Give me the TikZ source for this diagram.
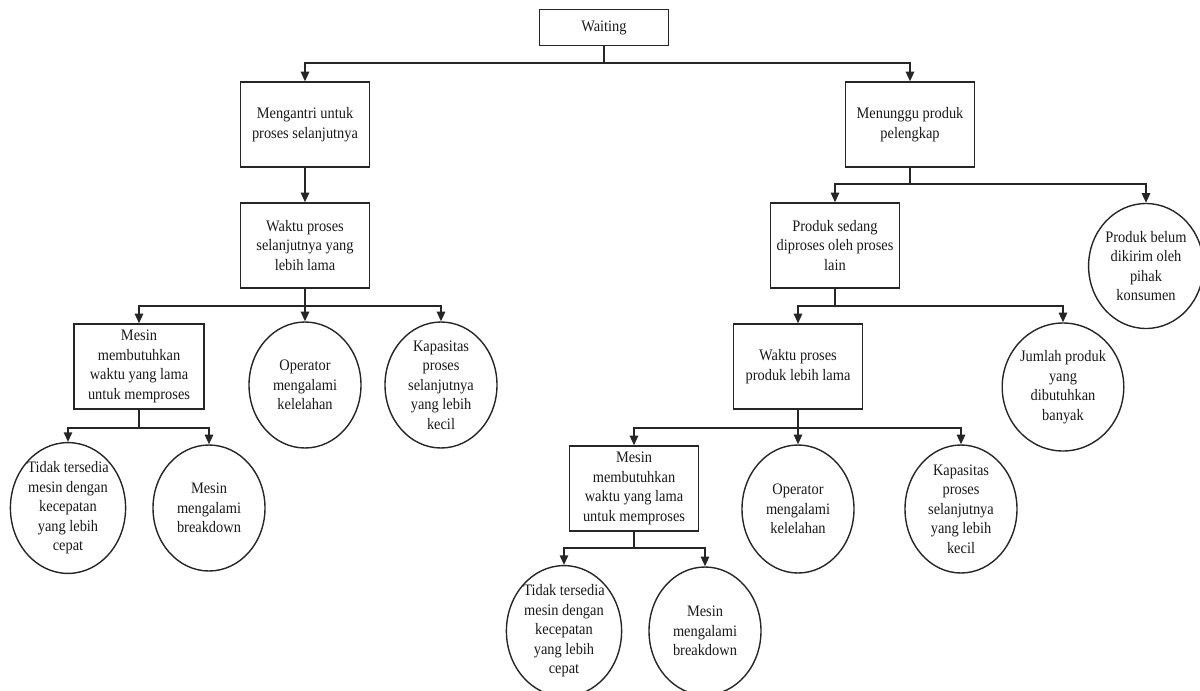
\documentclass[tikz,border=0pt]{standalone}
\usepackage{fontspec}
\setmainfont{Liberation Serif}[FakeStretch=0.9]
\usetikzlibrary{shapes.geometric,arrows.meta}
\tikzset{
  base/.style={draw=black!85, line width=0.7pt, align=center, inner sep=0pt,
    font=\fontsize{8}{9.75}\selectfont, text=black!90},
  boxnode/.style={base, rectangle, minimum width=64.5pt, minimum height=42.5pt},
  ovalnode/.style={base, ellipse, minimum width=56pt, minimum height=63pt},
  conn/.style={draw=black!85, line width=0.75pt},
  arr/.style={conn, -{Triangle[width=4.2pt,length=4.8pt]}}
}
\begin{document}
\begin{tikzpicture}[x=0.5pt,y=-0.5pt]
\useasboundingbox (0,0) rectangle (1200,691);
% top
\node[boxnode, minimum height=18pt] (W) at (604,27.5) {Waiting};
\node[boxnode] (A) at (305,124.5) {Mengantri untuk\\proses selanjutnya};
\node[boxnode] (B) at (910,124.5) {Menunggu produk\\pelengkap};
% left branch
\node[boxnode] (A1) at (305,245.5) {Waktu proses\\selanjutnya yang\\lebih lama};
\node[boxnode, minimum width=65pt] (A11) at (139,366.5) {Mesin\\membutuhkan\\waktu yang lama\\untuk memproses};
\node[ovalnode] (A12) at (305,385) {Operator\\mengalami\\kelelahan};
\node[ovalnode] (A13) at (441,385) {Kapasitas\\proses\\selanjutnya\\yang lebih\\kecil};
\node[ovalnode] (A111) at (68,508) {Tidak tersedia\\mesin dengan\\kecepatan\\yang lebih\\cepat};
\node[ovalnode] (A112) at (209,508) {Mesin\\mengalami\\breakdown};
% right branch
\node[boxnode] (B1) at (835,245.5) {Produk sedang\\diproses oleh proses\\lain};
\node[ovalnode, minimum width=55pt, minimum height=62.5pt] (B2) at (1146,266) {Produk belum\\dikirim oleh\\pihak\\konsumen};
\node[boxnode] (B11) at (798,366.5) {Waktu proses\\produk lebih lama};
\node[ovalnode, minimum height=64pt] (B12) at (1063,387) {Jumlah produk\\yang\\dibutuhkan\\banyak};
\node[boxnode] (B111) at (634,488.5) {Mesin\\membutuhkan\\waktu yang lama\\untuk memproses};
\node[ovalnode, minimum height=64pt] (B112) at (798,509) {Operator\\mengalami\\kelelahan};
\node[ovalnode, minimum height=64pt] (B113) at (961,509) {Kapasitas\\proses\\selanjutnya\\yang lebih\\kecil};
\node[ovalnode, minimum height=64pt] (B1111) at (564,631) {Tidak tersedia\\mesin dengan\\kecepatan\\yang lebih\\cepat};
\node[ovalnode, minimum height=64pt] (B1112) at (705,631) {Mesin\\mengalami\\breakdown};
% bus coordinates
\coordinate (bW) at (604,63);
\coordinate (bA1) at (305,306);
\coordinate (bA11) at (139,428);
\coordinate (bB) at (910,184);
\coordinate (bB1) at (835,306);
\coordinate (bB11) at (798,428);
\coordinate (bB111) at (634,548);
% connectors
\draw[conn] (W.south) -- (bW);
\draw[arr] (bW) -| (A.north);
\draw[arr] (bW) -| (B.north);
\draw[arr] (A.south) -- (A1.north);
\draw[conn] (A1.south) -- (bA1);
\draw[arr] (bA1) -| (A11.north);
\draw[arr] (bA1) -- (A12.north);
\draw[arr] (bA1) -| (A13.north);
\draw[conn] (A11.south) -- (bA11);
\draw[arr] (bA11) -| (A111.north);
\draw[arr] (bA11) -| (A112.north);
\draw[conn] (B.south) -- (bB);
\draw[arr] (bB) -| (B1.north);
\draw[arr] (bB) -| (B2.north);
\draw[conn] (B1.south) -- (bB1);
\draw[arr] (bB1) -| (B11.north);
\draw[arr] (bB1) -| (B12.north);
\draw[conn] (B11.south) -- (bB11);
\draw[arr] (bB11) -| (B111.north);
\draw[arr] (bB11) -- (B112.north);
\draw[arr] (bB11) -| (B113.north);
\draw[conn] (B111.south) -- (bB111);
\draw[arr] (bB111) -| (B1111.north);
\draw[arr] (bB111) -| (B1112.north);
\end{tikzpicture}
\end{document}
